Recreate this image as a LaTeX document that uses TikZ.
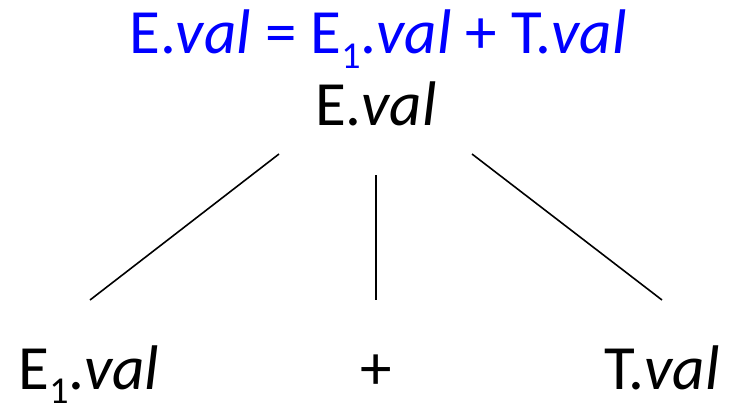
\documentclass[tikz,border=0pt]{standalone}
\usepackage{fontspec}
\setmainfont{Carlito}
\newcommand{\subone}{\raisebox{-14pt}{\fontsize{38}{40}\selectfont 1}}
\begin{document}
\begin{tikzpicture}[x=1pt,y=-1pt,
  lbl/.style={inner sep=0pt,anchor=base,font=\fontsize{63}{72}\selectfont},
  edge/.style={line width=1.6pt}]
\useasboundingbox (0,0) rectangle (730,404);
\node[lbl,text=blue] (rule) at (378,54) {E.\textit{val} = E\subone.\textit{val} + T.\textit{val}};
\node[lbl] (root) at (376,125) {E.\textit{val}};
\node[lbl] (c1) at (89,389) {E\subone.\textit{val}};
\node[lbl] (c2) at (376,389) {+};
\node[lbl] (c3) at (662,389) {T.\textit{val}};
\coordinate (r1) at (279,154);
\coordinate (r2) at (376,175);
\coordinate (r3) at (472,154);
\coordinate (e1) at (90,300);
\coordinate (e2) at (376,300);
\coordinate (e3) at (662,300);
\draw[edge] (r1) -- (e1);
\draw[edge] (r2) -- (e2);
\draw[edge] (r3) -- (e3);
\end{tikzpicture}
\end{document}
